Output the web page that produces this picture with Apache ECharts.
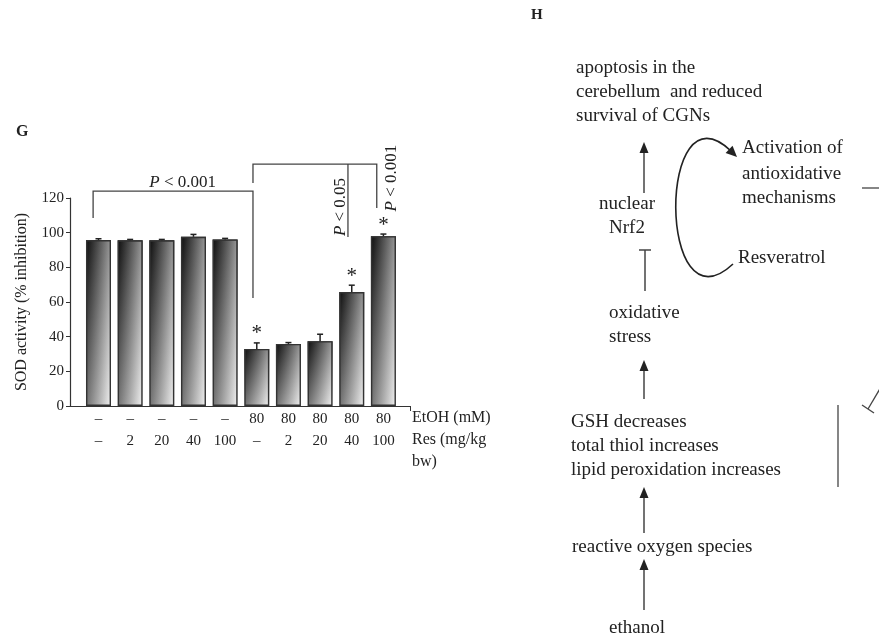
<!DOCTYPE html>
<html lang="en">
<head>
<meta charset="UTF-8">
<title>SOD activity</title>
<script src="https://cdn.jsdelivr.net/npm/echarts@6/dist/echarts.min.js"></script>
<style>
  html, body { margin: 0; background: #fff; }
  #main { width: 879px; height: 641px; }
</style>
</head>
<body>
<div id="main"></div>
<script>
// values
var etoh = ['–', '–', '–', '–', '–', '80', '80', '80', '80', '80'];
var res = ['–', '2', '20', '40', '100', '–', '2', '20', '40', '100'];
var sod = [95.7, 95.6, 95.6, 97.6, 96.1, 32.9, 35.8, 37.4, 65.7, 98.0];
var sem = [0.8, 0.5, 0.5, 1.4, 0.6, 3.5, 0.8, 4.0, 4.0, 1.2];
var star = [0, 0, 0, 0, 0, 1, 0, 0, 1, 1];
var groupIdx = [0, 1, 2, 3, 4, 5, 6, 7, 8, 9];

// significance brackets, in data units [x, y]
var brackets = [
    [[-0.17, 108.5], [-0.17, 124], [4.88, 124], [4.88, 62.3]],
    [[4.88, 128.7], [4.88, 139.6], [8.79, 139.6], [8.79, 114.2]],
    [[7.88, 139.6], [7.88, 97.5]]
];
var pLabels = [
    {p: '0.001', x: 2.66, y: 129.2, rotate: false},
    {p: '0.05', x: 7.63, y: 114.8, rotate: true},
    {p: '0.001', x: 9.27, y: 131.5, rotate: true}
];

var SERIF = 'Liberation Serif';
var INK = '#222';

// panel H: pathway text, [text, x, y, align]
var diagramText = [
    ['apoptosis in the', 576, 68, 'left'],
    ['cerebellum  and reduced', 576, 92, 'left'],
    ['survival of CGNs', 576, 116, 'left'],
    ['nuclear', 627, 204, 'center'],
    ['Nrf2', 627, 228, 'center'],
    ['Activation of', 742, 148, 'left'],
    ['antioxidative', 742, 174, 'left'],
    ['mechanisms', 742, 198, 'left'],
    ['Resveratrol', 738, 258, 'left'],
    ['oxidative', 609, 313, 'left'],
    ['stress', 609, 337, 'left'],
    ['GSH decreases', 571, 422, 'left'],
    ['total thiol increases', 571, 446, 'left'],
    ['lipid peroxidation increases', 571, 470, 'left'],
    ['reactive oxygen species', 572, 547, 'left'],
    ['ethanol', 609, 628, 'left']
];
// upward arrows: x, yBottom, yTip
var upArrows = [[644, 193, 142], [644, 399, 360], [644, 533, 487], [644, 610, 559]];

var xMin = -0.9, xMax = 9.84;

var chart = echarts.init(document.getElementById('main'));

function arrowHead(tip, from, len, half) {
    var dx = tip[0] - from[0], dy = tip[1] - from[1];
    var d = Math.sqrt(dx * dx + dy * dy);
    var ux = dx / d, uy = dy / d;
    var bx = tip[0] - ux * len, by = tip[1] - uy * len;
    return {
        type: 'polygon',
        shape: {points: [tip, [bx - uy * half, by + ux * half], [bx + uy * half, by - ux * half]]},
        style: {fill: INK}
    };
}

var graphics = [
    {type: 'text', left: 16, top: 124, style: {text: 'G', font: 'bold 16px "Liberation Serif"', fill: INK}},
    {type: 'text', left: 531, top: 8, style: {text: 'H', font: 'bold 15px "Liberation Serif"', fill: INK}}
];
diagramText.forEach(function (t) {
    graphics.push({
        type: 'text', x: t[1], y: t[2],
        style: {text: t[0], font: '19px "Liberation Serif"', fill: INK, align: t[3], verticalAlign: 'middle'}
    });
});
upArrows.forEach(function (a) {
    graphics.push({type: 'line', shape: {x1: a[0], y1: a[1], x2: a[0], y2: a[2] + 8}, style: {stroke: '#444', lineWidth: 1.5}});
    graphics.push(arrowHead([a[0], a[2]], [a[0], a[1]], 11, 4.5));
});
// Nrf2 inhibited by oxidative stress
graphics.push({type: 'line', shape: {x1: 645, y1: 291, x2: 645, y2: 250}, style: {stroke: '#444', lineWidth: 1.5}});
graphics.push({type: 'line', shape: {x1: 639, y1: 250, x2: 651, y2: 250}, style: {stroke: '#444', lineWidth: 1.5}});
// curved Resveratrol arrow
graphics.push({
    type: 'bezierCurve',
    shape: {x1: 733, y1: 264, cpx1: 657, cpy1: 335, cpx2: 657, cpy2: 80, x2: 731, y2: 151},
    style: {stroke: INK, lineWidth: 1.6, fill: null}
});
graphics.push(arrowHead([737, 157], [657, 80], 11, 5));
// lines running off to the right
graphics.push({type: 'line', shape: {x1: 862, y1: 188, x2: 879, y2: 188}, style: {stroke: '#444', lineWidth: 1.3}});
graphics.push({type: 'line', shape: {x1: 838, y1: 405, x2: 838, y2: 487}, style: {stroke: '#444', lineWidth: 1.3}});
graphics.push({type: 'line', shape: {x1: 881, y1: 387, x2: 868, y2: 409}, style: {stroke: '#444', lineWidth: 1.3}});
graphics.push({type: 'line', shape: {x1: 862, y1: 405, x2: 874, y2: 413}, style: {stroke: '#444', lineWidth: 1.3}});

var option = {
    animation: false,
    textStyle: {fontFamily: SERIF},
    grid: {left: 70, right: 469, top: 198, bottom: 235},
    xAxis: {
        type: 'value',
        min: xMin,
        max: xMax,
        splitLine: {show: false},
        axisLine: {onZero: false, lineStyle: {color: '#333', width: 1.2}},
        axisTick: {show: true, customValues: [xMax], length: 5, lineStyle: {color: '#333'}},
        axisLabel: {
            customValues: groupIdx,
            margin: 2,
            fontSize: 15,
            lineHeight: 22,
            color: INK,
            formatter: function (v) {
                var i = Math.round(v);
                return etoh[i] + '\n' + res[i];
            }
        },
        name: 'EtOH (mM)\nRes (mg/kg\nbw)',
        nameLocation: 'end',
        nameGap: 2,
        nameTextStyle: {fontSize: 16, color: INK, align: 'left', verticalAlign: 'top', lineHeight: 22, padding: [1, 0, 0, 0]}
    },
    yAxis: {
        type: 'value',
        min: 0,
        max: 120,
        interval: 20,
        splitLine: {show: false},
        axisLine: {show: true, onZero: false, lineStyle: {color: '#333', width: 1.2}},
        axisTick: {show: true, length: 4, lineStyle: {color: '#333'}},
        axisLabel: {fontSize: 15, color: INK, margin: 6},
        name: 'SOD activity (% inhibition)',
        nameLocation: 'middle',
        nameGap: 40,
        nameTextStyle: {fontSize: 16, color: INK}
    },
    graphic: graphics,
    series: [
        {
            name: 'shade',
            type: 'bar',
            barWidth: 25,
            barGap: '-100%',
            data: sod.map(function (v, i) { return [i, v]; }),
            itemStyle: {
                color: new echarts.graphic.LinearGradient(0, 0, 0, 1, [
                    {offset: 0, color: '#1a1a1a'},
                    {offset: 1, color: '#e4e4e4'}
                ])
            }
        },
        {
            name: 'SOD',
            type: 'bar',
            barWidth: 25,
            barGap: '-100%',
            data: sod.map(function (v, i) { return [i, v]; }),
            itemStyle: {
                color: new echarts.graphic.LinearGradient(0, 0, 1, 0, [
                    {offset: 0, color: 'rgba(0,0,0,0.5)'},
                    {offset: 1, color: 'rgba(255,255,255,0.55)'}
                ]),
                borderColor: '#333',
                borderWidth: 1.4
            }
        },
        {
            name: 'error',
            type: 'custom',
            z: 5,
            data: sod.map(function (v, i) { return [i, v, sem[i]]; }),
            renderItem: function (params, api) {
                var i = api.value(0), v = api.value(1), e = api.value(2);
                var base = api.coord([i, v]);
                var top = api.coord([i, v + e]);
                var kids = [
                    {type: 'line', shape: {x1: base[0], y1: base[1], x2: top[0], y2: top[1]}, style: {stroke: '#222', lineWidth: 1.5}},
                    {type: 'line', shape: {x1: top[0] - 3, y1: top[1], x2: top[0] + 3, y2: top[1]}, style: {stroke: '#222', lineWidth: 1.5}}
                ];
                if (star[params.dataIndex]) {
                    kids.push({
                        type: 'text', x: top[0], y: top[1] - 9,
                        style: {text: '*', font: '21px "Liberation Serif"', fill: INK, align: 'center', verticalAlign: 'middle'}
                    });
                }
                return {type: 'group', children: kids};
            }
        },
        {
            name: 'brackets',
            type: 'custom',
            clip: false,
            z: 4,
            data: brackets.map(function (b) { return [b[0][0], b[0][1]]; }),
            renderItem: function (params, api) {
                var pts = brackets[params.dataIndex].map(function (p) { return api.coord(p); });
                return {type: 'polyline', shape: {points: pts}, style: {fill: null, stroke: '#444', lineWidth: 1.3}};
            }
        },
        {
            name: 'pvalues',
            type: 'custom',
            clip: false,
            z: 4,
            data: pLabels.map(function (l) { return [l.x, l.y]; }),
            renderItem: function (params, api) {
                var l = pLabels[params.dataIndex];
                var c = api.coord([l.x, l.y]);
                return {
                    type: 'text', x: c[0], y: c[1],
                    rotation: l.rotate ? Math.PI / 2 : 0,
                    style: {
                        text: '{i|P} < ' + l.p,
                        rich: {i: {fontStyle: 'italic', fontSize: 17, fontFamily: SERIF, fill: INK}},
                        fontSize: 17, fontFamily: SERIF, fill: INK,
                        align: 'center', verticalAlign: 'middle'
                    }
                };
            }
        }
    ]
};
chart.setOption(option);
</script>
</body>
</html>
